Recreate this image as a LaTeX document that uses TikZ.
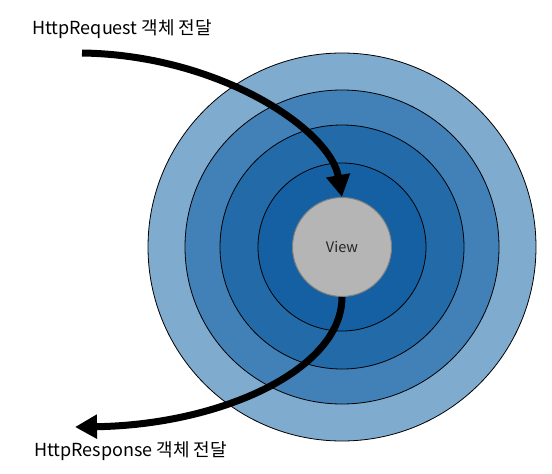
\documentclass[tikz,border=0pt]{standalone}
\usepackage{fontspec}
\setmainfont{Noto Sans CJK KR}
\usetikzlibrary{arrows.meta}

\definecolor{ringA}{HTML}{7FABCF}
\definecolor{ringB}{HTML}{4181B7}
\definecolor{ringC}{HTML}{236AA9}
\definecolor{ringD}{HTML}{1560A3}
\definecolor{viewgray}{HTML}{B5B5B5}

\begin{document}
\begin{tikzpicture}[x=1pt, y=-1pt,
  ring/.style={draw=black, line width=0.8pt},
  flow/.style={line width=7pt, -{Triangle[length=22pt, width=23pt]}},
  caption/.style={anchor=base west, inner sep=0pt, font=\fontsize{18}{20}\selectfont}]
  \useasboundingbox (0,0) rectangle (552,474);

  % Layers around the view
  \filldraw[ring, fill=ringA] (342,247) circle (194);
  \filldraw[ring, fill=ringB] (342,247) circle (157);
  \filldraw[ring, fill=ringC] (342,247) circle (122);
  \filldraw[ring, fill=ringD] (342,247) circle (84);

  % View in the middle
  \node[circle, fill=viewgray, draw=gray, line width=1pt, minimum size=99pt, inner sep=0pt,
        font=\fontsize{14.5}{16}\selectfont, text=black!85] (view) at (342,247) {View};

  % Labels
  \node[caption] (request) at (32,34) {HttpRequest 객체 전달};
  \node[caption] (response) at (34,456.7) {HttpResponse 객체 전달};

  % Request going in
  \coordinate (reqstart) at (82,53);
  \draw[flow] (reqstart) .. controls (220,55) and (330,130) .. (view.north);

  % Response coming out
  \coordinate (respend) at (75,427);
  \draw[flow] (view.south) .. controls (342,370) and (220,425) .. (respend);
\end{tikzpicture}
\end{document}
